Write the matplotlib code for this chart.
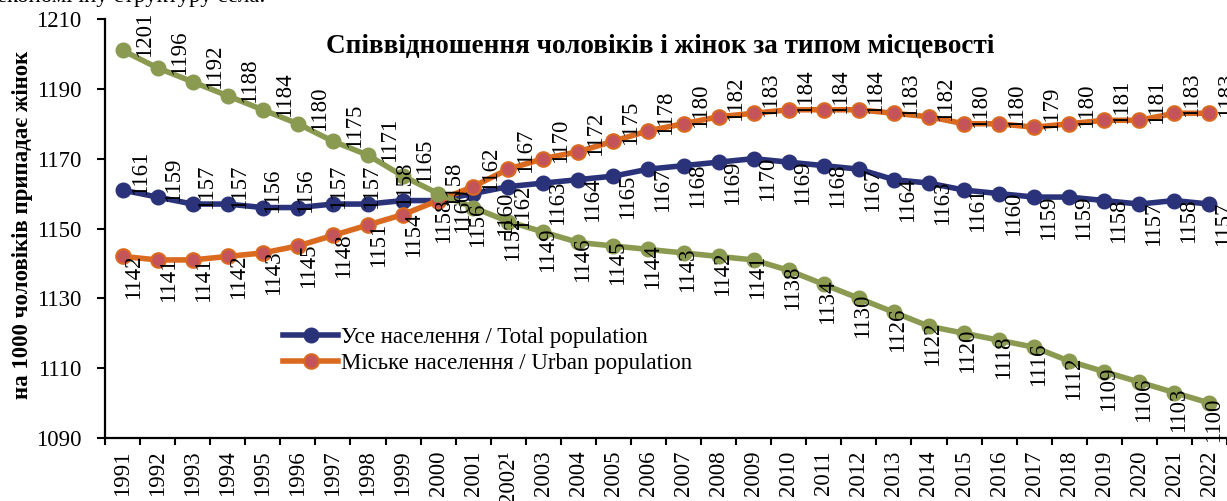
import matplotlib
matplotlib.use("Agg")
import matplotlib.pyplot as plt
from matplotlib.lines import Line2D

years = ["1991", "1992", "1993", "1994", "1995", "1996", "1997", "1998", "1999", "2000",
         "2001", "2002¹", "2003", "2004", "2005", "2006", "2007", "2008", "2009", "2010",
         "2011", "2012", "2013", "2014", "2015", "2016", "2017", "2018", "2019", "2020",
         "2021", "2022"]
total = [1161, 1159, 1157, 1157, 1156, 1156, 1157, 1157, 1158, 1158,
         1160, 1162, 1163, 1164, 1165, 1167, 1168, 1169, 1170, 1169,
         1168, 1167, 1164, 1163, 1161, 1160, 1159, 1159, 1158, 1157,
         1158, 1157]
urban = [1142, 1141, 1141, 1142, 1143, 1145, 1148, 1151, 1154, 1158,
         1162, 1167, 1170, 1172, 1175, 1178, 1180, 1182, 1183, 1184,
         1184, 1184, 1183, 1182, 1180, 1180, 1179, 1180, 1181, 1181,
         1183, 1183]
rural = [1201, 1196, 1192, 1188, 1184, 1180, 1175, 1171, 1165, 1160,
         1156, 1152, 1149, 1146, 1145, 1144, 1143, 1142, 1141, 1138,
         1134, 1130, 1126, 1122, 1120, 1118, 1116, 1112, 1109, 1106,
         1103, 1100]
series_names = ["Усе населення / Total population", "Міське населення / Urban population",
                "Сільське населення / Rural population"]
title = "Співвідношення чоловіків і жінок за типом місцевості"
ylabel = "на 1000 чоловіків припадає жінок"
yticks = [1090, 1110, 1130, 1150, 1170, 1190, 1210]

FONT = "Liberation Serif"
plt.rcParams['font.family'] = [FONT, 'DejaVu Serif']

W, H = 1227, 501
fig = plt.figure(figsize=(W / 100, H / 100), dpi=100)
ax = fig.add_axes([105 / W, (H - 438) / H, (W - 105) / W, (438 - 19) / H])

c_total = "#2A337A"
c_urban_line = "#DA6A1F"
c_urban_face = "#C4545A"
c_rural = "#8A9A50"

x = list(range(len(years)))
lw = 4.0
ms = 10.5
ax.plot(x, total, color=c_total, lw=lw, marker='o', ms=ms, mfc=c_total, mec=c_total, zorder=3)
ax.plot(x, urban, color=c_urban_line, lw=lw, marker='o', ms=ms, mfc=c_urban_face,
        mec=c_urban_line, mew=1.5, zorder=4)
ax.plot(x, rural, color=c_rural, lw=lw, marker='o', ms=ms, mfc=c_rural, mec=c_rural, zorder=5)

lab_fs = 16.5

def put(xi, v, above, dx, dy):
    ax.annotate(str(v), (xi, v), xytext=(dx, dy), textcoords='offset pixels',
                rotation=90, ha='center', va='bottom' if above else 'top',
                fontsize=lab_fs, color='black', zorder=10, annotation_clip=False)

for i, v in enumerate(rural):
    if i <= 8:
        put(i, v, True, 22, -7)
    else:
        put(i, v, False, 4 if i > 9 else 24, 5)
for i, v in enumerate(total):
    if i <= 9:
        put(i, v, True, 18 - 2 * i if i < 9 else 15, -5)
    else:
        put(i, v, False, 14 if i > 10 else 32, 2)
for i, v in enumerate(urban):
    if i <= 9:
        put(i, v, False, 11 if i < 9 else 5, 2)
    else:
        put(i, v, True, 17, -4)

ax.set_xlim(-0.5, len(years) - 0.5)
ax.set_ylim(1090, 1210)
ax.set_yticks(yticks)
ax.set_yticklabels([str(t) for t in yticks], fontsize=16.5)
ax.set_xticks(x)
ax.set_xticklabels(years, rotation=90, fontsize=16.5)
ax.set_xticks([i - 0.5 for i in range(len(years) + 1)], minor=True)
ax.tick_params(axis='x', which='major', length=0, pad=9)
ax.tick_params(axis='x', which='minor', length=5, width=1.5, direction='out')
ax.tick_params(axis='y', length=6, width=1.5, direction='out', pad=11)
for s in ['top', 'right']:
    ax.spines[s].set_visible(False)
for s in ['left', 'bottom']:
    ax.spines[s].set_linewidth(1.6)
ax.set_facecolor('none')

fig.text(660 / W, 1 - 47 / H, title, fontsize=19.5, fontweight='bold', ha='center', va='center')
fig.text(23 / W, 1 - 225 / H, ylabel, fontsize=16.5, fontweight='bold', rotation=90,
         ha='center', va='center')
fig.text(265 / W, 1 - 2 / H, "економічну структуру села.", fontsize=16.5, ha='right', va='baseline')

handles = [Line2D([], [], color=c_total, lw=lw, marker='o', ms=ms, mfc=c_total, mec=c_total),
           Line2D([], [], color=c_urban_line, lw=lw, marker='o', ms=ms, mfc=c_urban_face,
                  mec=c_urban_line, mew=1.5)]
fig.legend(handles, series_names[:2], loc='upper left', bbox_to_anchor=(283 / W, 1 - 327 / H),
           bbox_transform=fig.transFigure, frameon=False, fontsize=16.5, borderpad=0,
           borderaxespad=0, handlelength=2.4, handletextpad=0.12, labelspacing=0.2)

fig.savefig("out.png", dpi=100)
